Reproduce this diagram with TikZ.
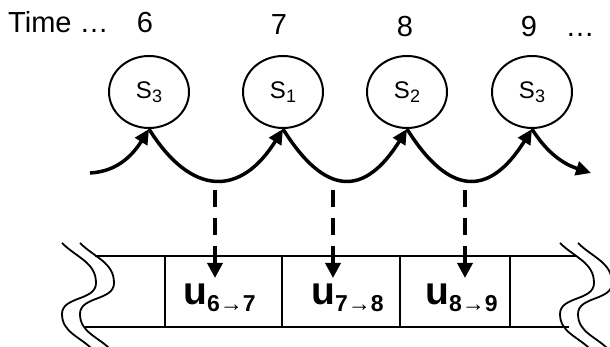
\documentclass[tikz,border=0pt]{standalone}
\usepackage{fontspec}
\setmainfont{Liberation Sans}
\usetikzlibrary{arrows.meta,shapes.geometric,calc}
\begin{document}
\begin{tikzpicture}[x=1pt,y=1pt,
  state/.style={draw, ellipse, line width=2pt, minimum width=80pt, minimum height=72pt, inner sep=0pt},
  timelbl/.style={anchor=base, inner sep=0pt, font=\fontsize{29}{29}\selectfont},
  arcarrow/.style={line width=3.5pt, -{Triangle[length=15pt,width=14pt]}},
  dasharrow/.style={line width=3.5pt, dash pattern=on 17pt off 11pt, -{Triangle[length=15pt,width=15pt]}},
  cell/.style={draw, rectangle, line width=1.8pt, minimum height=71pt, inner sep=0pt},
  tape/.style={line width=1.8pt},
  brk/.style={line width=1.8pt},
  ulbl/.style={anchor=base west, inner sep=0pt}]
\useasboundingbox (0,0) rectangle (610,347);
\clip (0,0) rectangle (610,347);
\newcommand{\stl}[1]{\fontsize{24}{24}\selectfont S\raisebox{-4pt}{\fontsize{18}{18}\selectfont #1}}
\newcommand{\ulb}[2]{\bfseries\fontsize{39}{39}\selectfont u\raisebox{-7pt}{\fontsize{23}{23}\selectfont #1→#2}}

% time labels
\node[anchor=base west, inner sep=0pt, font=\fontsize{29}{29}\selectfont] (time) at (8,314) {Time …};
\node[timelbl] (t6) at (145,314) {6};
\node[timelbl] (t7) at (279,312) {7};
\node[timelbl] (t8) at (405,310) {8};
\node[timelbl] (t9) at (529,310) {9};
\node[timelbl] (tdots) at (580,310) {…};

% states
\node[state] (c1) at (149,255) {\stl{3}};
\node[state] (c2) at (283,255) {\stl{1}};
\node[state] (c3) at (407,255) {\stl{2}};
\node[state] (c4) at (532,255) {\stl{3}};

% transitions
\coordinate (astart) at (90,174);
\coordinate (aend) at (591,174);
\draw[arcarrow] (astart) to[out=3,in=-122] (c1.south);
\draw[arcarrow] (c1.south) .. controls ($(c1.south)+(-58:80)$) and ($(c2.south)+(-122:80)$) .. (c2.south);
\draw[arcarrow] (c2.south) .. controls ($(c2.south)+(-58:80)$) and ($(c3.south)+(-122:80)$) .. (c3.south);
\draw[arcarrow] (c3.south) .. controls ($(c3.south)+(-58:80)$) and ($(c4.south)+(-122:80)$) .. (c4.south);
\draw[arcarrow] (c4.south) to[out=-58,in=162] (aend);

% tape
\node[cell, minimum width=117pt] (k1) at (223.5,55.5) {};
\node[cell, minimum width=118pt] (k2) at (341,55.5) {};
\node[cell, minimum width=110pt] (k3) at (455,55.5) {};
\coordinate (tl) at (95,91);
\coordinate (tr) at (577,91);
\coordinate (bl) at (85,20);
\coordinate (br) at (569,20);
\draw[tape] (tl) -- (tr);
\draw[tape] (bl) -- (br);

% break marks
\foreach \x in {62,80,560,578}{
  \draw[brk] (\x,104) to[out=-45,in=90] (\x+34,64) to[out=-90,in=90] (\x,33) to[out=-90,in=132] (\x+32,-4);
}

% labels in cells
\node[ulbl] (u1) at (183,42) {\ulb{6}{7}};
\node[ulbl] (u2) at (311,42) {\ulb{7}{8}};
\node[ulbl] (u3) at (425,42) {\ulb{8}{9}};

% dashed arrows
\coordinate (d1s) at (215,157);
\coordinate (d1e) at (215,69);
\coordinate (d2s) at (333,157);
\coordinate (d2e) at (333,69);
\coordinate (d3s) at (465,157);
\coordinate (d3e) at (465,69);
\draw[dasharrow] (d1s) -- (d1e);
\draw[dasharrow] (d2s) -- (d2e);
\draw[dasharrow] (d3s) -- (d3e);
\end{tikzpicture}
\end{document}
